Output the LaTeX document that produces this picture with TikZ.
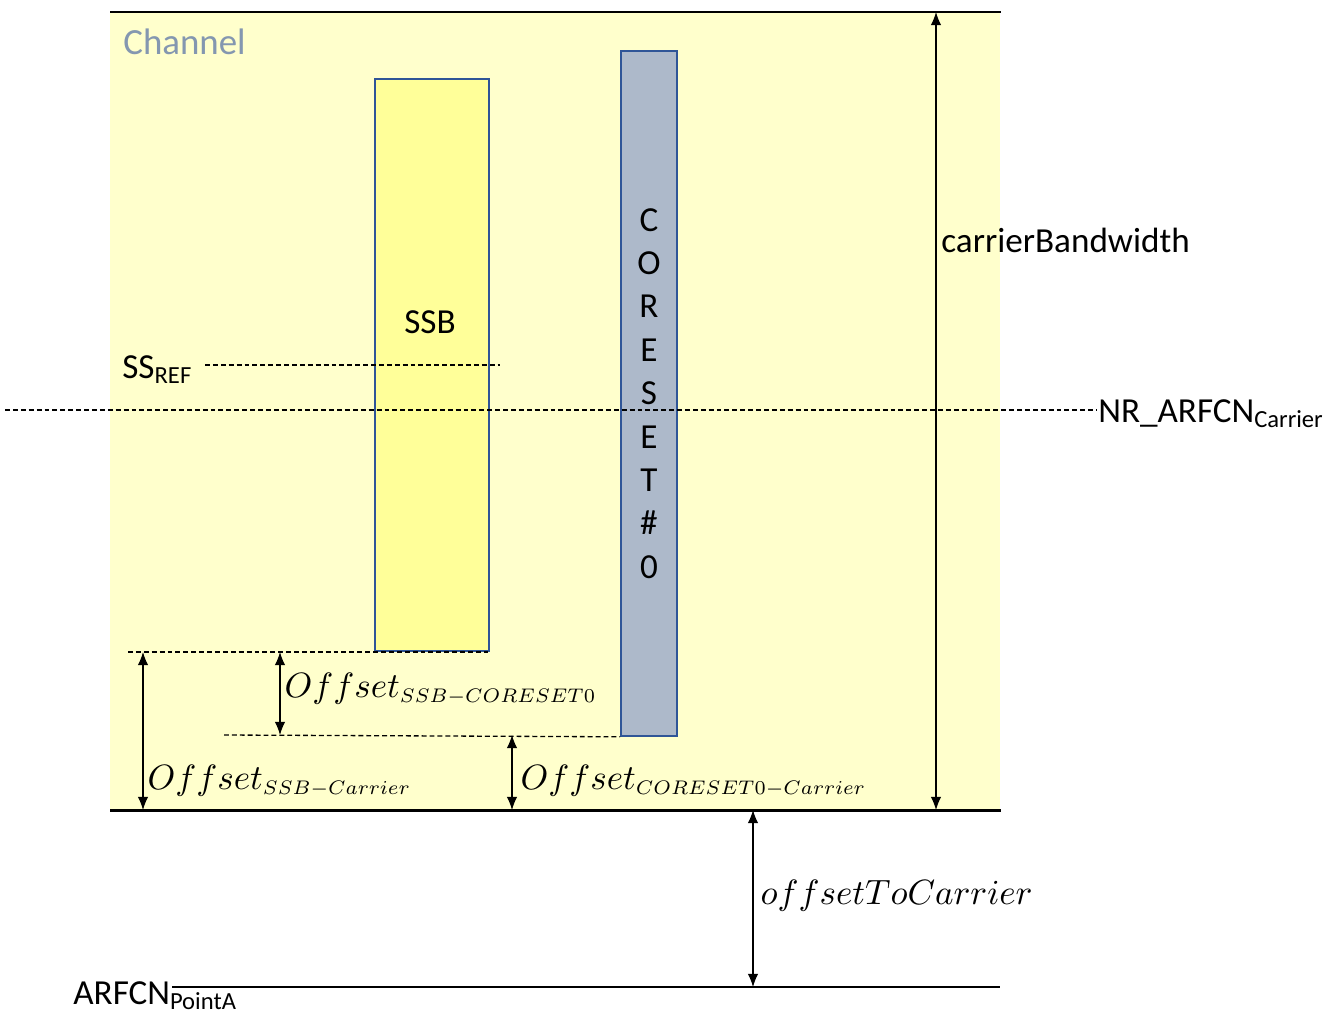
\documentclass[tikz,border=0pt]{standalone}
\usepackage{fontspec}
\setmainfont{Carlito}
\usepackage{xcolor}
\usepackage{graphicx}
\usetikzlibrary{arrows.meta,positioning}

\definecolor{chanfill}{HTML}{FFFFCC}
\definecolor{ssbfill}{HTML}{FFFF99}
\definecolor{corefill}{HTML}{ADB9CA}
\definecolor{blockframe}{HTML}{2F5597}
\definecolor{chantext}{HTML}{8497B0}

\newcommand{\offsub}[1]{_{\scalebox{0.8}{$\scriptstyle #1$}}}

\tikzset{
  block/.style={draw=blockframe, line width=1.1pt, inner sep=0pt, anchor=north west},
  edge/.style={line width=1.3pt},
  guide/.style={line width=0.75pt, dash pattern=on 2.8pt off 1.7pt},
  dim/.style={line width=0.7pt, {Latex[length=7.5pt,width=6pt]}-{Latex[length=7.5pt,width=6pt]}},
  mathlbl/.style={anchor=base west, inner sep=0pt, font=\normalsize, scale=2.0},
  txtlbl/.style={anchor=base west, inner sep=0pt}
}

\begin{document}
\begin{tikzpicture}[x=0.02cm, y=-0.02cm, font=\fontsize{20}{24.7}\selectfont]
    \useasboundingbox (0,0) rectangle (1329,1014);

    % Channel area
    \node[fill=chanfill, inner sep=0pt, anchor=north west, minimum width=17.8cm, minimum height=15.96cm] (chan) at (110,12) {};
    \draw[edge] (chan.north west) -- (chan.north east);
    \draw[edge] (chan.south west) -- (chan.south east);
    \node[anchor=west, inner sep=0pt, text=chantext, font=\fontsize{21}{25}\selectfont] (chanlbl) at (123,42) {Channel};

    % SSB and CORESET#0 blocks
    \node[block, fill=ssbfill, minimum width=2.28cm, minimum height=11.44cm] (ssb) at (374,78) {};
    \node (ssblbl) at (430,322) {SSB};
    \node[block, fill=corefill, minimum width=1.12cm, minimum height=13.7cm, align=center] (coreset) at (620,50) {C\\O\\R\\E\\S\\E\\T\\\#\\0};

    % Reference lines
    \node[txtlbl] (ssref) at (122,378) {SS\textsubscript{REF}};
    \coordinate (ref w) at (205,365);
    \coordinate (ref e) at (500,365);
    \draw[guide] (ref w) -- (ref e);

    \coordinate (nr w) at (5,410);
    \coordinate (nr e) at (1097,410);
    \draw[guide] (nr w) -- (nr e);
    \node[txtlbl] (nrlbl) at (1098,422) {NR\_ARFCN\textsubscript{Carrier}};

    \coordinate (ssbguide w) at (128,652);
    \coordinate (ssbguide e) at (488,652);
    \draw[guide] (ssbguide w) -- (ssbguide e);
    \coordinate (coreguide w) at (224,735);
    \draw[guide] (coreguide w) -- (coreset.south west);

    % Offsets
    \coordinate (d1 top) at (280,652);
    \coordinate (d1 bot) at (280,735);
    \draw[dim] (d1 top) -- (d1 bot);
    \node[mathlbl] (offsc) at (284,697) {$Offset\offsub{SSB-CORESET0}$};

    \coordinate (d2 top) at (143,652);
    \coordinate (d2 bot) at (143,810);
    \draw[dim] (d2 top) -- (d2 bot);
    \node[mathlbl] (offscar) at (147,789) {$Offset\offsub{SSB-Carrier}$};

    \coordinate (d3 top) at (512,735);
    \coordinate (d3 bot) at (512,810);
    \draw[dim] (d3 top) -- (d3 bot);
    \node[mathlbl] (offccar) at (520,789) {$Offset\offsub{CORESET0-Carrier}$};

    % Carrier bandwidth
    \coordinate (bw top) at (936,12);
    \coordinate (bw bot) at (936,810);
    \draw[dim] (bw top) -- (bw bot);
    \node[txtlbl] (bwlbl) at (941,252) {carrierBandwidth};

    % Point A
    \node[txtlbl] (pointa) at (73,1004) {ARFCN\textsubscript{PointA}};
    \coordinate (pa w) at (172,987);
    \coordinate (pa e) at (1000,987);
    \draw[edge] (pa w) -- (pa e);
    \coordinate (oc top) at (753,810);
    \coordinate (oc bot) at (753,987);
    \draw[dim] (oc top) -- (oc bot);
    \node[mathlbl] (offtoc) at (760,904) {$offsetToCarrier$};

\end{tikzpicture}
\end{document}
